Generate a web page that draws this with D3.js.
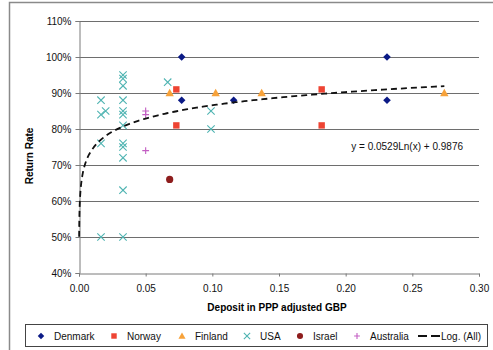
<!DOCTYPE html>
<html>
<head>
<meta charset="utf-8">
<script src="https://cdn.jsdelivr.net/npm/d3@7"></script>
<style>
  body { margin: 0; background: #fff; }
  svg { font-family: "Liberation Sans", Arial, sans-serif; }
</style>
</head>
<body>
<svg id="chart" width="493" height="350"></svg>
<script>
// values
var denmarkX = [0.077, 0.077, 0.116, 0.231, 0.231];
var denmarkY = [1.00, 0.88, 0.88, 1.00, 0.88];

var norwayX = [0.073, 0.073, 0.182, 0.182];
var norwayY = [0.91, 0.81, 0.91, 0.81];

var finlandX = [0.068, 0.1025, 0.137, 0.274];
var finlandY = [0.90, 0.90, 0.90, 0.90];

var usaX = [0.0165, 0.0165, 0.020, 0.0165, 0.0165,
            0.033, 0.033, 0.033, 0.033, 0.033, 0.033, 0.033, 0.033, 0.033, 0.033, 0.033, 0.033,
            0.0665, 0.099, 0.099];
var usaY = [0.88, 0.84, 0.85, 0.76, 0.50,
            0.95, 0.94, 0.92, 0.88, 0.85, 0.84, 0.81, 0.76, 0.75, 0.72, 0.63, 0.50,
            0.93, 0.85, 0.80];

var israelX = [0.068];
var israelY = [0.66];

var australiaX = [0.050, 0.050, 0.050];
var australiaY = [0.85, 0.84, 0.74];

// log trendline y = a*ln(x) + b
var trendA = 0.0529;
var trendB = 0.9876;
var trendRange = [0.0001, 0.274];

var xTicks = [0, 0.05, 0.10, 0.15, 0.20, 0.25, 0.30];
var yTicks = [0.4, 0.5, 0.6, 0.7, 0.8, 0.9, 1.0, 1.1];

var seriesNames = ["Denmark", "Norway", "Finland", "USA", "Israel", "Australia"];

var svg = d3.select("#chart");

var margins = { left: 79, right: 14, top: 21, bottom: 77 };
var width = 493, height = 350;

var xScale = d3.scaleLinear().domain([0, 0.30]).range([margins.left, width - margins.right]);
var yScale = d3.scaleLinear().domain([0.4, 1.1]).range([height - margins.bottom, margins.top]);

// outer frame
svg.append("rect")
    .attr("x", 9.5).attr("y", 2.5)
    .attr("width", 520).attr("height", 400)
    .attr("fill", "none")
    .attr("stroke", "#8a8a8a")
    .attr("stroke-width", 1.5);

// gridlines
svg.append("g").selectAll("line")
    .data(yTicks.slice(1))
    .enter().append("line")
    .attr("x1", xScale(0)).attr("x2", xScale(0.30))
    .attr("y1", function(d) { return Math.round(yScale(d)) + 0.5; })
    .attr("y2", function(d) { return Math.round(yScale(d)) + 0.5; })
    .attr("stroke", "#6e6e6e")
    .attr("stroke-width", 1);

// axes
var xAxis = svg.append("g")
    .attr("transform", "translate(0," + (Math.round(yScale(0.4)) + 0.5) + ")")
    .call(d3.axisBottom(xScale).tickValues(xTicks).tickFormat(d3.format(".2f")).tickSize(3).tickPadding(6));
var yAxis = svg.append("g")
    .attr("transform", "translate(" + (xScale(0) + 0.5) + ",0)")
    .call(d3.axisLeft(yScale).tickValues(yTicks).tickFormat(d3.format(".0%")).tickSize(4).tickPadding(4));

[xAxis, yAxis].forEach(function(ax) {
    ax.select(".domain").attr("stroke", "#7a7a7a");
    ax.selectAll(".tick line").attr("stroke", "#7a7a7a");
    ax.selectAll(".tick text").style("font-size", "10px").attr("fill", "#111")
        .style("font-family", "'Liberation Sans', Arial, sans-serif");
});
xAxis.selectAll(".tick text").attr("dy", "0.9em");

// axis titles
svg.append("text")
    .attr("x", 277).attr("y", 311)
    .attr("text-anchor", "middle")
    .style("font-size", "10px").style("font-weight", "bold")
    .text("Deposit in PPP adjusted GBP");
svg.append("text")
    .attr("transform", "translate(33,156) rotate(-90)")
    .attr("text-anchor", "middle")
    .style("font-size", "10px").style("font-weight", "bold")
    .text("Return Rate");

// marker shapes
var markers = {
    Denmark: { color: "#0b1a86", path: function(s) { return "M0," + (-s) + "L" + s + ",0L0," + s + "L" + (-s) + ",0Z"; }, size: 3.8, stroke: false },
    Norway: { color: "#ee4433", path: function(s) { return "M" + (-s) + "," + (-s) + "H" + s + "V" + s + "H" + (-s) + "Z"; }, size: 3.2, stroke: false },
    Finland: { color: "#f7a23a", path: function(s) { return "M0," + (-s) + "L" + s + "," + (s * 0.8) + "L" + (-s) + "," + (s * 0.8) + "Z"; }, size: 4.2, stroke: false },
    USA: { color: "#4fb4b2", path: function(s) { return "M" + (-s) + "," + (-s) + "L" + s + "," + s + "M" + s + "," + (-s) + "L" + (-s) + "," + s; }, size: 3.7, stroke: true },
    Israel: { color: "#8e1d1d", path: function(s) { return "M" + s + ",0A" + s + "," + s + " 0 1,1 " + (-s) + ",0A" + s + "," + s + " 0 1,1 " + s + ",0Z"; }, size: 3.6, stroke: false },
    Australia: { color: "#c35ec3", path: function(s) { return "M" + (-s) + ",0H" + s + "M0," + (-s) + "V" + s; }, size: 3.4, stroke: true }
};

var seriesData = {
    Denmark: d3.zip(denmarkX, denmarkY),
    Norway: d3.zip(norwayX, norwayY),
    Finland: d3.zip(finlandX, finlandY),
    USA: d3.zip(usaX, usaY),
    Israel: d3.zip(israelX, israelY),
    Australia: d3.zip(australiaX, australiaY)
};

function styleMarker(sel, m) {
    if (m.stroke) {
        sel.attr("fill", "none").attr("stroke", m.color).attr("stroke-width", 1.1);
    } else {
        sel.attr("fill", m.color).attr("stroke", "none");
    }
}

// trendline drawn from its equation
var trendPts = [];
var steps = 300;
for (var i = 0; i <= steps; i++) {
    var lx = Math.log(trendRange[0]) + (Math.log(trendRange[1]) - Math.log(trendRange[0])) * i / steps;
    var xv = Math.exp(lx);
    trendPts.push([xv, trendA * Math.log(xv) + trendB]);
}
// points drawn in order, then trendline over them
seriesNames.forEach(function(name) {
    var m = markers[name];
    var g = svg.append("g").attr("class", "series-" + name);
    var pts = g.selectAll("path")
        .data(seriesData[name])
        .enter().append("path")
        .attr("transform", function(d) { return "translate(" + xScale(d[0]) + "," + yScale(d[1]) + ")"; })
        .attr("d", m.path(m.size));
    styleMarker(pts, m);
});

svg.append("path")
    .datum(trendPts)
    .attr("fill", "none")
    .attr("stroke", "#111")
    .attr("stroke-width", 1.8)
    .attr("stroke-dasharray", "6,4")
    .attr("d", d3.line().x(function(d) { return xScale(d[0]); }).y(function(d) { return yScale(d[1]); }));

// equation label
svg.append("text")
    .attr("x", 463).attr("y", 150)
    .attr("text-anchor", "end")
    .style("font-size", "10px")
    .attr("fill", "#111")
    .text("y = " + trendA + "Ln(x) + " + trendB);

// legend
var legend = svg.append("g");
legend.append("rect")
    .attr("x", 25.5).attr("y", 324.5)
    .attr("width", 462).attr("height", 22)
    .attr("fill", "#fff")
    .attr("stroke", "#444")
    .attr("stroke-width", 1);

var legendX = [41, 114, 182, 247, 300, 357];
seriesNames.forEach(function(name, i) {
    var m = markers[name];
    var p = legend.append("path")
        .attr("transform", "translate(" + legendX[i] + ",336)")
        .attr("d", m.path(m.size * 0.85));
    styleMarker(p, m);
    legend.append("text")
        .attr("x", legendX[i] + 13).attr("y", 339.5)
        .style("font-size", "10px")
        .attr("fill", "#111")
        .text(name);
});
legend.append("line")
    .attr("x1", 418).attr("x2", 440)
    .attr("y1", 336).attr("y2", 336)
    .attr("stroke", "#111").attr("stroke-width", 2)
    .attr("stroke-dasharray", "9,4");
legend.append("text")
    .attr("x", 441).attr("y", 339.5)
    .style("font-size", "10px")
    .attr("fill", "#111")
    .text("Log. (All)");
</script>
</body>
</html>
